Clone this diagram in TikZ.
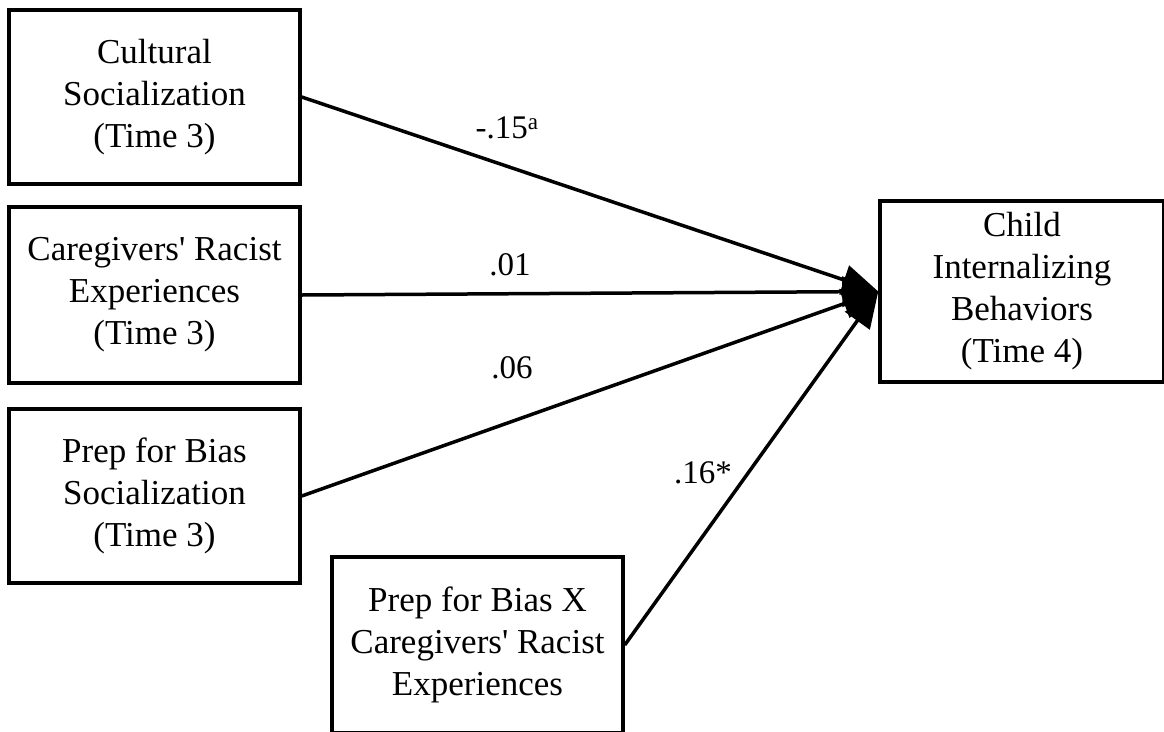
\documentclass[tikz,border=0pt]{standalone}
\usepackage{fontspec}
\setmainfont{Liberation Serif}
\usetikzlibrary{arrows.meta}
\begin{document}
\begin{tikzpicture}[x=1pt,y=-1pt,
  varbox/.style={draw,line width=3.5pt,rectangle,align=center,inner sep=0pt,
    font=\fontsize{35}{42}\selectfont},
  path/.style={line width=3.5pt,-{Triangle[length=36pt,width=30pt]}},
  coef/.style={font=\fontsize{33}{36}\selectfont,inner sep=0pt}]
\useasboundingbox (0,0) rectangle (1164,731);
\begin{scope}
\clip (0,0) rectangle (1164,731);
\node[varbox,minimum width=291pt,minimum height=174pt] (b1) at (154.5,97) {Cultural\\Socialization\\(Time 3)};
\node[varbox,minimum width=291pt,minimum height=176pt] (b2) at (154.5,295) {Caregivers\textquotesingle{} Racist\\Experiences\\(Time 3)};
\node[varbox,minimum width=291pt,minimum height=174pt] (b3) at (154.5,496) {Prep for Bias\\Socialization\\(Time 3)};
\node[varbox,minimum width=291pt,minimum height=176pt] (b4) at (477.5,645) {Prep for Bias X\\Caregivers\textquotesingle{} Racist\\Experiences};
\node[varbox,minimum width=284pt,minimum height=181pt] (b5) at (1022,291.5) {Child\\Internalizing\\Behaviors\\(Time 4)};
\end{scope}
\draw[path] (b1.east) -- (b5.west);
\draw[path] (b2.east) -- (b5.west);
\draw[path] (b3.east) -- (b5.west);
\draw[path] (b4.east) -- (b5.west);
\node[coef] (l1) at (507,128) {-.15\textsuperscript{a}};
\node[coef] (l2) at (510,265) {.01};
\node[coef] (l3) at (512,368) {.06};
\node[coef] (l4) at (703,473) {.16*};
\end{tikzpicture}
\end{document}
